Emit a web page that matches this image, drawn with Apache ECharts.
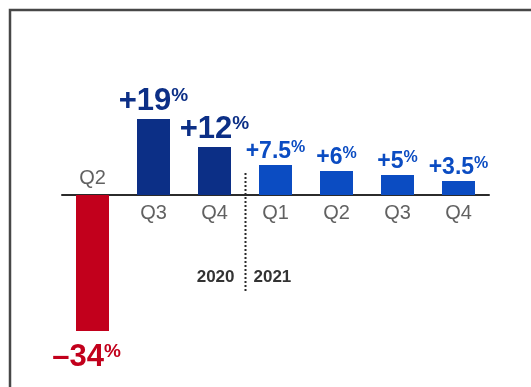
<!DOCTYPE html>
<html>
<head>
<meta charset="utf-8">
<script src="https://cdn.jsdelivr.net/npm/echarts@6/dist/echarts.min.js"></script>
<style>
  html, body { margin: 0; padding: 0; background: #ffffff; }
  #chart { width: 531px; height: 387px; }
</style>
</head>
<body>
<div id="chart"></div>
<script>
// Quarterly growth, 2020 Q2 through 2021 Q4
const quarters = ['Q2', 'Q3', 'Q4', 'Q1', 'Q2', 'Q3', 'Q4'];
const years = ['2020', '2021'];
const growth = [-34, 19, 12, 7.5, 6, 5, 3.5];
const kinds = ['drop', 'actual', 'actual', 'forecast', 'forecast', 'forecast', 'forecast'];

const FONT = '"Liberation Sans", Arial, sans-serif';
const COLORS = { drop: '#c2001c', actual: '#0c2f86', forecast: '#0b4cc2' };
const BIG = { drop: true, actual: true, forecast: false };

function labelText(v) {
  const sign = v < 0 ? '\u2013' : '+';
  return sign + Math.abs(v);
}

const barData = growth.map((v, i) => {
  const k = kinds[i];
  const big = BIG[k];
  return {
    value: v,
    itemStyle: { color: COLORS[k] },
    label: {
      show: true,
      position: v < 0 ? 'bottom' : 'top',
      distance: v < 0 ? 11 : 2,
      offset: v < 0 ? [-6, 0] : [0, 0],
      formatter: () => '{n|' + labelText(v) + '}{p|%}',
      rich: {
        n: { fontFamily: FONT, fontWeight: 'bold', fontSize: big ? 31 : 23, lineHeight: big ? 31 : 23, color: COLORS[k] },
        p: { fontFamily: FONT, fontWeight: 'bold', fontSize: big ? 19 : 16, lineHeight: big ? 19 : 16, verticalAlign: 'top', color: COLORS[k] }
      }
    }
  };
});

// Quarter names: below the axis for growth, above it for a decline
const quarterNames = growth.map((v, i) => ({
  value: 0,
  label: {
    show: true,
    formatter: quarters[i],
    position: v < 0 ? 'top' : 'bottom',
    distance: v < 0 ? 7 : 8
  }
}));

const chart = echarts.init(document.getElementById('chart'), null, { renderer: 'canvas' });

chart.setOption({
  animation: false,
  backgroundColor: '#ffffff',
  grid: { left: 62, right: 42, top: 35, bottom: 32 },
  xAxis: {
    type: 'category',
    data: quarters,
    axisLine: { onZero: true, lineStyle: { color: '#2b2b2b', width: 2 } },
    axisTick: { show: false },
    axisLabel: { show: false }
  },
  yAxis: {
    type: 'value',
    min: -40,
    max: 40,
    show: false,
    splitLine: { show: false }
  },
  series: [
    {
      type: 'bar',
      barWidth: 33,
      data: barData
    },
    {
      type: 'scatter',
      symbolSize: 0,
      silent: true,
      data: quarterNames,
      label: {
        fontFamily: FONT,
        fontSize: 20,
        color: '#3a3a3a'
      }
    }
  ]
});

// Year divider between the last 2020 quarter and the first 2021 quarter
const xa = chart.convertToPixel({ xAxisIndex: 0 }, 2);
const xb = chart.convertToPixel({ xAxisIndex: 0 }, 3);
const xDiv = Math.round((xa + xb) / 2) + 0.5;
const yZero = chart.convertToPixel({ yAxisIndex: 0 }, 0);

chart.setOption({
  graphic: [
    {
      type: 'rect',
      shape: { x: 10, y: 10, width: 700, height: 700 },
      style: { fill: 'none', stroke: '#474747', lineWidth: 2.5 },
      silent: true
    },
    {
      type: 'line',
      shape: { x1: xDiv, y1: yZero - 22, x2: xDiv, y2: yZero + 98 },
      style: { stroke: '#2b2b2b', lineWidth: 2, lineDash: [2, 2] },
      silent: true
    },
    {
      type: 'text',
      x: xDiv - 11,
      y: yZero + 82,
      style: { text: years[0], fontFamily: FONT, fontWeight: 'bold', fontSize: 17, fill: '#333333', align: 'right', verticalAlign: 'middle' }
    },
    {
      type: 'text',
      x: xDiv + 8,
      y: yZero + 82,
      style: { text: years[1], fontFamily: FONT, fontWeight: 'bold', fontSize: 17, fill: '#333333', align: 'left', verticalAlign: 'middle' }
    }
  ]
});
</script>
</body>
</html>
